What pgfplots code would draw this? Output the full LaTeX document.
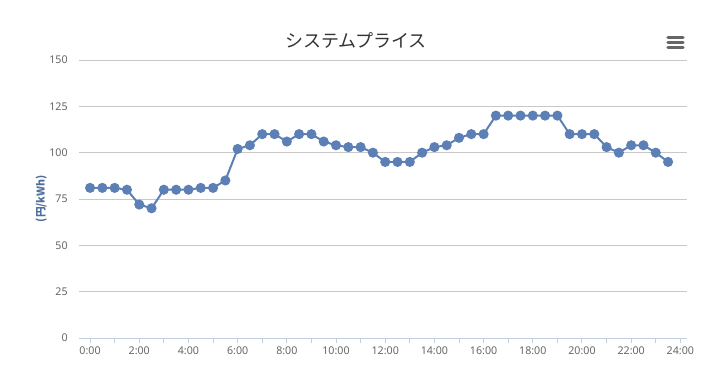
\documentclass[border=0pt]{standalone}
\usepackage{pgfplots}
\pgfplotsset{compat=1.18}
\usepackage{fontspec}
\setmainfont{Noto Sans}
\newfontfamily\cjk{Noto Sans CJK JP}
\definecolor{series}{RGB}{92,128,182}
\definecolor{gridc}{RGB}{200,200,200}
\definecolor{xaxc}{RGB}{192,208,224}
\definecolor{lbl}{RGB}{102,102,102}
\definecolor{ttl}{RGB}{51,51,51}
\definecolor{ylab}{RGB}{77,109,154}
\begin{document}
\begin{tikzpicture}
\useasboundingbox (0,0) rectangle (531.75pt,-287.25pt);
\begin{axis}[
  at={(59.25pt,-253.5pt)}, anchor=south west,
  width=456pt, height=208.5pt, scale only axis,
  xmin=-0.45, xmax=24.27, ymin=0, ymax=150,
  axis y line*=left, axis x line*=bottom,
  y axis line style={draw=none},
  x axis line style={draw=xaxc, line width=0.75pt},
  ytick={0,25,...,150},
  ymajorgrids, grid style={gridc, line width=0.6pt},
  xtick={0,2,...,24},
  xticklabels={0:00,2:00,4:00,6:00,8:00,10:00,12:00,14:00,16:00,18:00,20:00,22:00,24:00},
  minor xtick={1,3,...,23},
  tick align=outside,
  major tick length=4pt, minor tick length=4pt,
  xtick style={draw=xaxc, line width=0.75pt},
  minor x tick style={draw=xaxc, line width=0.75pt},
  ytick style={draw=none},
  tick label style={font=\fontsize{8}{9}\selectfont, text=lbl},
  /pgf/number format/assume math mode=true,
  yticklabel style={xshift=-1pt},
  xticklabel style={yshift=1pt},
  clip=false,
]
\addplot[series, line width=1.5pt, mark=*, mark size=3pt, mark options={fill=series, draw=series}] coordinates {
(0,81)(0.5,81)(1,81)(1.5,80)(2,72)(2.5,70)(3,80)(3.5,80)(4,80)(4.5,81)(5,81)(5.5,85)
(6,102)(6.5,104)(7,110)(7.5,110)(8,106)(8.5,110)(9,110)(9.5,106)(10,104)(10.5,103)(11,103)(11.5,100)
(12,95)(12.5,95)(13,95)(13.5,100)(14,103)(14.5,104)(15,108)(15.5,110)(16,110)(16.5,120)(17,120)(17.5,120)
(18,120)(18.5,120)(19,120)(19.5,110)(20,110)(20.5,110)(21,103)(21.5,100)(22,104)(22.5,104)(23,100)(23.5,95)
};
\end{axis}
\node[text=ttl, font=\cjk\fontsize{13.5}{15}\selectfont] at (267pt,-30pt) {システムプライス};
\node[text=ylab, font=\cjk\bfseries\fontsize{8}{9}\selectfont, rotate=90] at (31pt,-149pt) {(円/kWh)};
\foreach \yy in {28.2,32,35.7} {
  \draw[lbl, line width=2.4pt, line cap=round] (501pt,-\yy pt) -- (512.25pt,-\yy pt);
}
\end{tikzpicture}
\end{document}
